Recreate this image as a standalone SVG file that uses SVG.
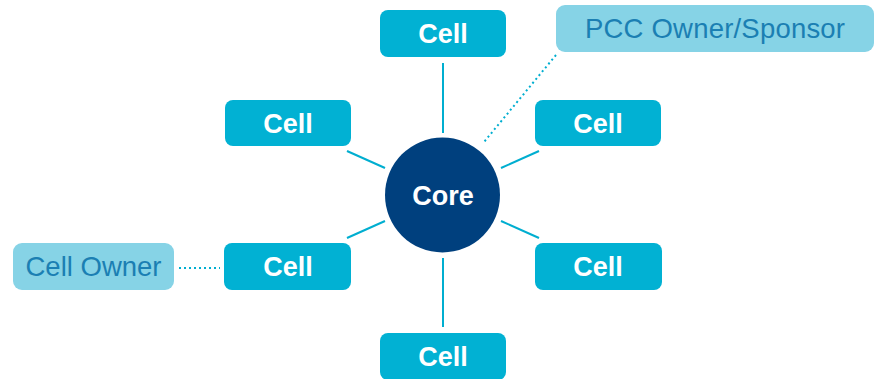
<svg xmlns="http://www.w3.org/2000/svg" width="875" height="379" viewBox="0 0 875 379">
<style>
.cell rect{fill:#01b1d3}
.cell text{fill:#fff;font-family:"Liberation Sans",Arial,sans-serif;font-weight:bold;font-size:27px;text-anchor:middle}
.lbl rect{fill:#86d3e6}
.lbl text{fill:#1b7fb3;font-family:"Liberation Sans",Arial,sans-serif;font-size:27.5px;text-anchor:middle}
.ln{stroke:#00aed0;stroke-width:2;fill:none}
.dot{stroke:#00aed0;stroke-width:2;fill:none;stroke-dasharray:2 3}
</style>
<rect width="875" height="379" fill="#fff"/>
<g id="connectors">
<line class="ln" x1="443" y1="63" x2="443" y2="133"/>
<line class="ln" x1="443" y1="258" x2="443" y2="327"/>
<line class="ln" x1="347" y1="151" x2="385" y2="168"/>
<line class="ln" x1="539" y1="151" x2="501" y2="168"/>
<line class="ln" x1="347" y1="238" x2="385" y2="221"/>
<line class="ln" x1="539" y1="238" x2="501" y2="221"/>
<line class="dot" x1="556" y1="55" x2="484" y2="142"/>
<line class="dot" x1="179" y1="268" x2="220" y2="268"/>
</g>
<g id="core"><circle cx="442.5" cy="195" r="57.5" fill="#00407e"/><text x="443" y="205" fill="#fff" font-family="Liberation Sans, Arial, sans-serif" font-weight="bold" font-size="27" text-anchor="middle">Core</text></g>
<g id="cell-top" class="cell"><rect x="380" y="10" width="126" height="47" rx="8"/><text x="443" y="43">Cell</text></g>
<g id="cell-ul" class="cell"><rect x="225" y="100" width="126" height="46" rx="8"/><text x="288" y="133">Cell</text></g>
<g id="cell-ur" class="cell"><rect x="535" y="100" width="126" height="46" rx="8"/><text x="598" y="133">Cell</text></g>
<g id="cell-ll" class="cell"><rect x="224" y="243" width="127" height="47" rx="8"/><text x="288" y="276">Cell</text></g>
<g id="cell-lr" class="cell"><rect x="535" y="243" width="127" height="47" rx="8"/><text x="598" y="276">Cell</text></g>
<g id="cell-bottom" class="cell"><rect x="380" y="333" width="126" height="47" rx="8"/><text x="443" y="366">Cell</text></g>
<g id="pcc-owner" class="lbl"><rect x="556" y="5" width="318" height="47" rx="9"/><text x="715" y="38" textLength="260">PCC Owner/Sponsor</text></g>
<g id="cell-owner" class="lbl"><rect x="13" y="243" width="161" height="47" rx="9"/><text x="93.5" y="276">Cell Owner</text></g>
</svg>
